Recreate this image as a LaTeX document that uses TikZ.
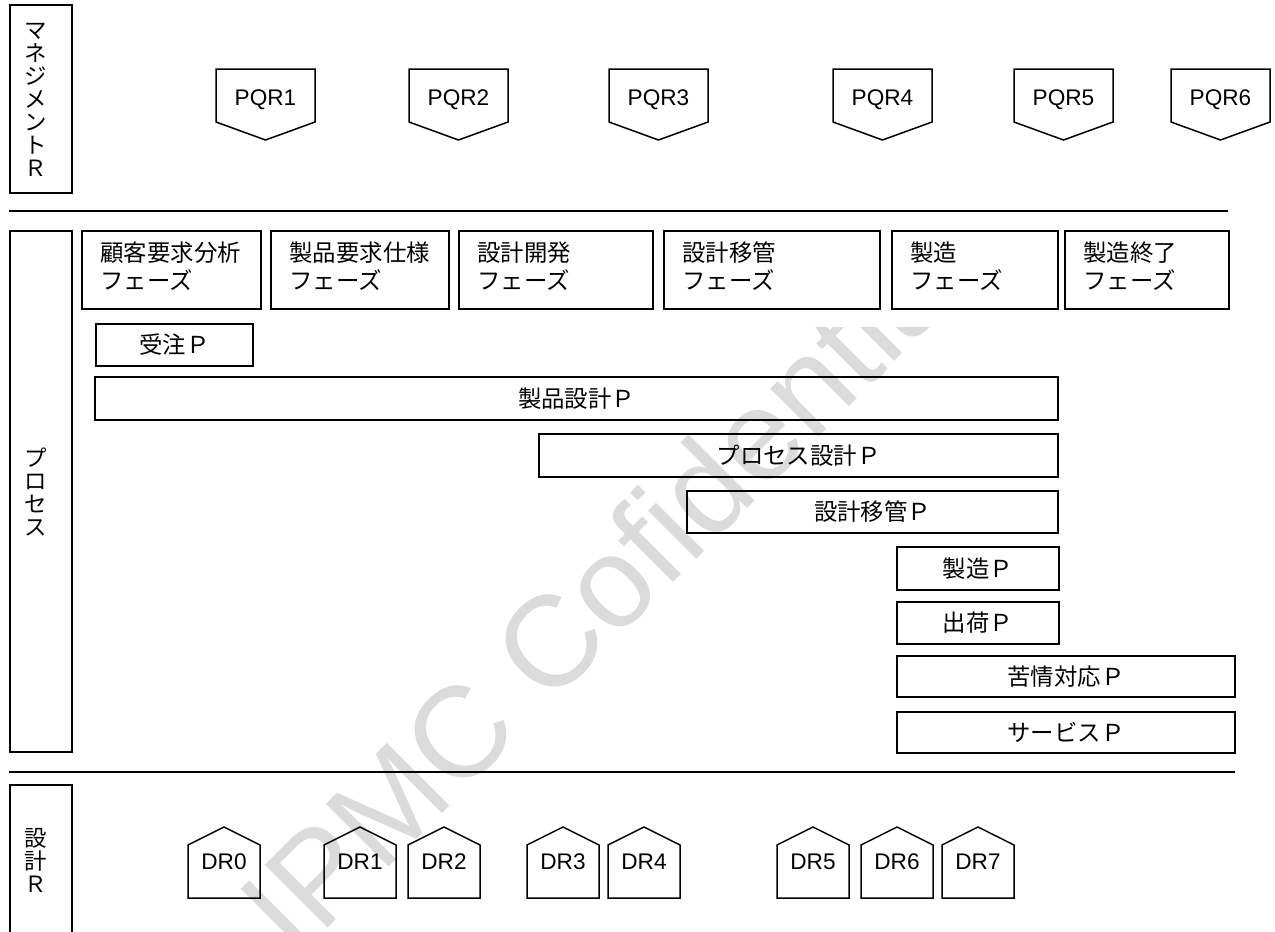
\documentclass[tikz,border=0pt]{standalone}
\usepackage{fontspec}
\setmainfont{Liberation Sans}
\newfontfamily\cjk{Noto Sans CJK JP}
\definecolor{wmgray}{gray}{0.86}
\newcommand\mkbox[6]{\node[box, minimum width={(#4-#2)*0.5pt}, minimum height={(#5-#3)*0.5pt}] (#1) at ({(#2+#4)/2},{(#3+#5)/2}) {#6};}
\newcommand\pqr[3]{%
  \node[rtext] (#1) at (#2+49.5,100) {#3};
  \draw[shp] (#2,69) -- ++(99,0) -- ++(0,53) -- ++(-49.5,18) -- ++(-49.5,-18) -- cycle;}
\newcommand\dr[3]{%
  \node[rtext] (#1) at (#2+36,862) {#3};
  \draw[shp] (#2,898) -- ++(0,-53) -- ++(36,-18) -- ++(36,18) -- ++(0,53) -- cycle;}
\begin{document}
\begin{tikzpicture}[x=0.5pt,y=-0.5pt,
  box/.style={draw, line width=0.75pt, rectangle, inner sep=0pt, font=\cjk\fontsize{11.7}{14}\selectfont},
  jtext/.style={font=\cjk\fontsize{11.7}{14}\selectfont, inner sep=0pt, align=left},
  vlabel/.style={font=\cjk\fontsize{11.2}{11.5}\selectfont, inner sep=0pt, align=center},
  rtext/.style={font=\fontsize{11.3}{13}\selectfont, inner sep=0pt},
  shp/.style={draw, line width=0.75pt, line join=miter},
  sep/.style={line width=0.75pt},
  watermark/.style={font=\fontsize{64.5}{72}\selectfont, text=wmgray, inner sep=0pt}]
\useasboundingbox (0,0) rectangle (1275,932);

% watermark
\begin{scope}
  \clip (0,327) rectangle (1275,932);
  \node[watermark, rotate=45] (wm) at (605,586) {IPMC Cofidential};
\end{scope}

% left labels
\mkbox{mgmt}{10}{5}{72}{193}{}
\node[vlabel] (mgmtt) at (36,100) {マ\\ネ\\ジ\\メ\\ン\\ト\\Ｒ};
\mkbox{proc}{10}{231}{72}{752}{}
\node[vlabel] (proct) at (36,492) {プ\\ロ\\セ\\ス};
\mkbox{dsgn}{10}{785}{72}{960}{}
\node[vlabel] (dsgnt) at (36,860) {設\\計\\Ｒ};

% separators
\coordinate (s1a) at (9,211); \coordinate (s1b) at (1228,211);
\coordinate (s2a) at (9,772); \coordinate (s2b) at (1235,772);
\draw[sep] (s1a) -- (s1b);
\draw[sep] (s2a) -- (s2b);

% PQR
\pqr{pqr1}{216}{PQR1}
\pqr{pqr2}{409}{PQR2}
\pqr{pqr3}{609}{PQR3}
\pqr{pqr4}{833}{PQR4}
\pqr{pqr5}{1014}{PQR5}
\pqr{pqr6}{1171}{PQR6}

% phases
\mkbox{ph1}{82}{231}{261}{309}{}
\mkbox{ph2}{271}{231}{449}{309}{}
\mkbox{ph3}{459}{231}{653}{309}{}
\mkbox{ph4}{664}{231}{880}{309}{}
\mkbox{ph5}{892}{231}{1058}{309}{}
\mkbox{ph6}{1065}{231}{1229}{309}{}
\node[jtext, anchor=west] (ph1t) at (100,266) {顧客要求分析\\フェーズ};
\node[jtext, anchor=west] (ph2t) at (289,266) {製品要求仕様\\フェーズ};
\node[jtext, anchor=west] (ph3t) at (477,266) {設計開発\\フェーズ};
\node[jtext, anchor=west] (ph4t) at (682,266) {設計移管\\フェーズ};
\node[jtext, anchor=west] (ph5t) at (910,266) {製造\\フェーズ};
\node[jtext, anchor=west] (ph6t) at (1083,266) {製造終了\\フェーズ};

% processes
\mkbox{p1}{96}{324}{253}{366}{受注Ｐ}
\mkbox{p2}{95}{377}{1058}{420}{製品設計Ｐ}
\mkbox{p3}{539}{434}{1058}{477}{プロセス設計Ｐ}
\mkbox{p4}{687}{491}{1058}{533}{設計移管Ｐ}
\mkbox{p5}{897}{547}{1059}{590}{製造Ｐ}
\mkbox{p6}{897}{602}{1059}{644}{出荷Ｐ}
\mkbox{p7}{897}{656}{1235}{697}{苦情対応Ｐ}
\mkbox{p8}{897}{712}{1235}{753}{サービスＰ}

% DR
\dr{dr0}{188}{DR0}
\dr{dr1}{324}{DR1}
\dr{dr2}{408}{DR2}
\dr{dr3}{527}{DR3}
\dr{dr4}{608}{DR4}
\dr{dr5}{777}{DR5}
\dr{dr6}{861}{DR6}
\dr{dr7}{942}{DR7}
\end{tikzpicture}
\end{document}
